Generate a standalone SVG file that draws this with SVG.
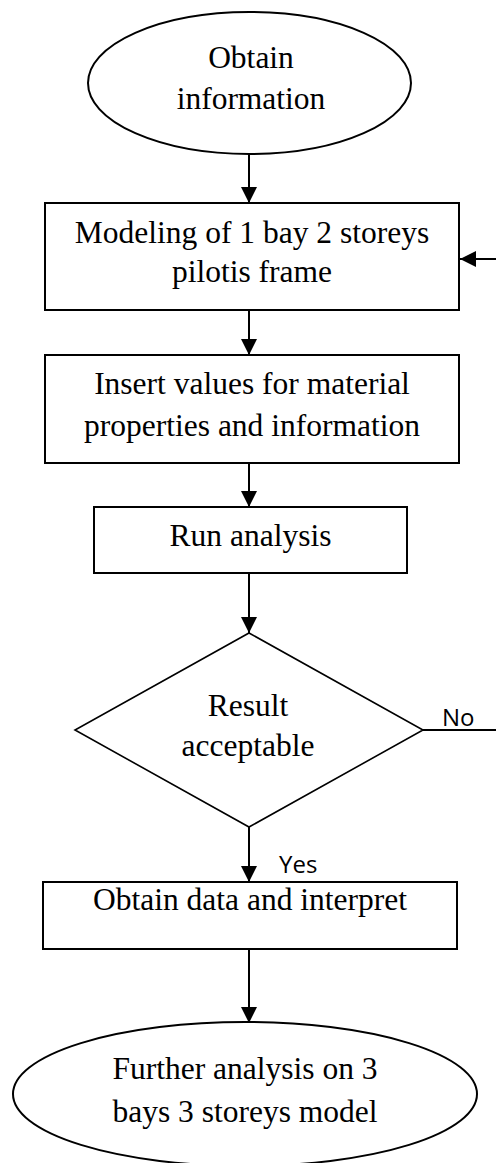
<svg xmlns="http://www.w3.org/2000/svg" width="496" height="1163" viewBox="0 0 496 1163">
<style>
.shape{fill:#fff;stroke:#000;stroke-width:2}
.t{font-family:"Liberation Serif","Times New Roman",serif;font-size:31.5px;fill:#000;text-anchor:middle}
.lbl{font-family:"Open Sans","Liberation Sans",sans-serif;font-size:24px;fill:#000}
.c{fill:none;stroke:#000;stroke-width:2}
</style>
<defs>
<marker id="ah" markerUnits="userSpaceOnUse" markerWidth="16" markerHeight="16" viewBox="0 0 16 16" refX="16" refY="8" orient="auto">
<path d="M0,0 L16,8 L0,16 Z" fill="#000"/>
</marker>
</defs>
<rect width="496" height="1163" fill="#fff"/>
<g id="connectors">
<line class="c" x1="249" y1="154" x2="249" y2="203" marker-end="url(#ah)"/>
<line class="c" x1="249" y1="310" x2="249" y2="355" marker-end="url(#ah)"/>
<line class="c" x1="249" y1="463" x2="249" y2="507" marker-end="url(#ah)"/>
<line class="c" x1="249" y1="573" x2="249" y2="633" marker-end="url(#ah)"/>
<line class="c" x1="249" y1="827" x2="249" y2="882" marker-end="url(#ah)"/>
<line class="c" x1="249" y1="949" x2="249" y2="1023" marker-end="url(#ah)"/>
<path class="c" d="M423,730 H499 V259 H460" marker-end="url(#ah)"/>
<text class="lbl" x="442" y="726">No</text>
<text class="lbl" x="279" y="873">Yes</text>
</g>
<g id="start">
<ellipse class="shape" cx="249.5" cy="83" rx="161.5" ry="71"/>
<text class="t" x="251" y="68">Obtain</text>
<text class="t" x="251" y="109">information</text>
</g>
<g id="modeling">
<rect class="shape" x="45" y="203" width="414" height="107"/>
<text class="t" x="252" y="243">Modeling of 1 bay 2 storeys</text>
<text class="t" x="252" y="282">pilotis frame</text>
</g>
<g id="insert">
<rect class="shape" x="45" y="355" width="414" height="108"/>
<text class="t" x="252" y="394">Insert values for material</text>
<text class="t" x="252" y="436">properties and information</text>
</g>
<g id="run">
<rect class="shape" x="94" y="507" width="313" height="66"/>
<text class="t" x="250.5" y="546">Run analysis</text>
</g>
<g id="decision">
<polygon class="shape" style="stroke-width:1.6" points="249,633 423,730 249,827 75,730"/>
<text class="t" x="248" y="716">Result</text>
<text class="t" x="248" y="756">acceptable</text>
</g>
<g id="obtain-data">
<rect class="shape" x="43" y="882" width="414" height="67"/>
<text class="t" x="250" y="910">Obtain data and interpret</text>
</g>
<g id="end">
<ellipse class="shape" cx="245" cy="1094" rx="232" ry="72"/>
<text class="t" x="245" y="1079">Further analysis on 3</text>
<text class="t" x="245" y="1122">bays 3 storeys model</text>
</g>
</svg>
